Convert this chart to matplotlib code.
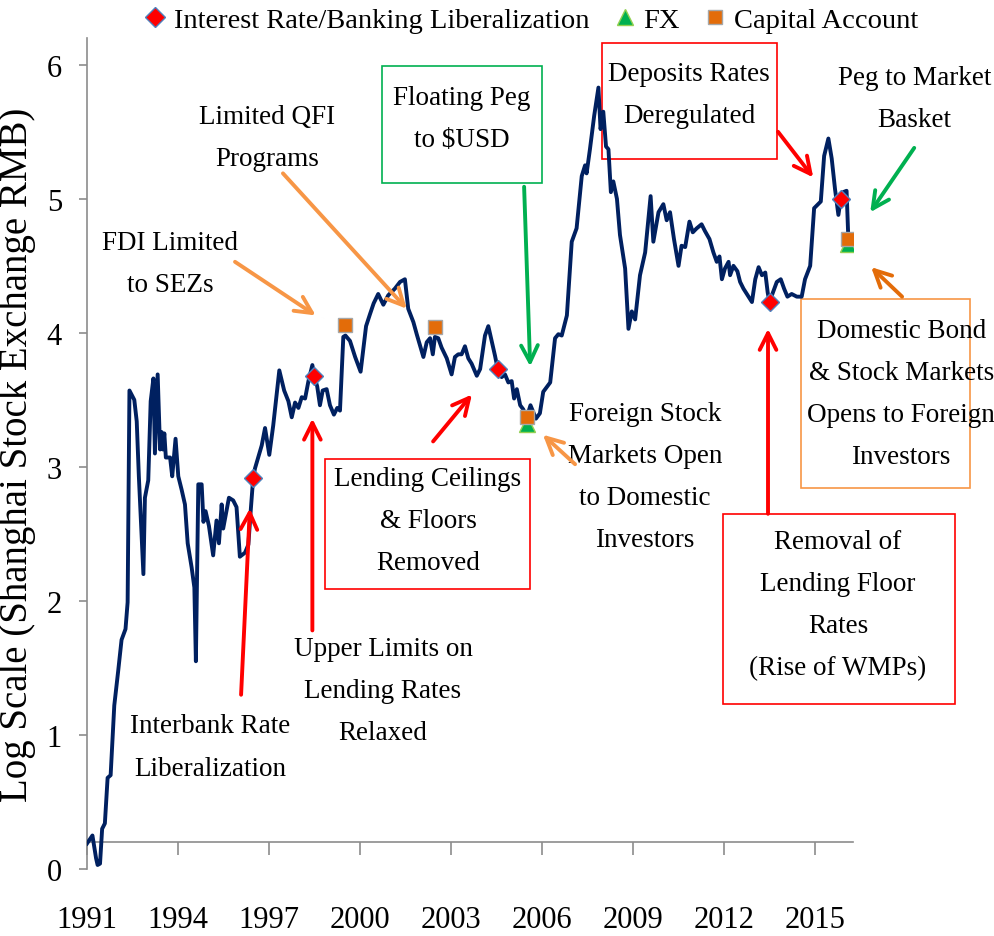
import matplotlib
matplotlib.use("Agg")
import matplotlib.pyplot as plt
from matplotlib.lines import Line2D
from matplotlib.patches import Rectangle

plt.rcParams['font.family'] = ['Liberation Serif', 'DejaVu Serif']

# Shanghai Stock Exchange, log scale
years = [1991.00, 1991.18, 1991.30, 1991.35, 1991.43, 1991.50, 1991.59, 1991.68, 1991.78, 1991.90,
         1992.03, 1992.14, 1992.27, 1992.34, 1992.40, 1992.56, 1992.64, 1992.71, 1992.86, 1992.91,
         1993.02, 1993.10, 1993.19, 1993.24, 1993.33, 1993.41, 1993.46, 1993.50, 1993.55, 1993.60,
         1993.74, 1993.81, 1993.92, 1994.01, 1994.12, 1994.23, 1994.32, 1994.45, 1994.54, 1994.59,
         1994.67, 1994.78, 1994.84, 1994.91, 1995.02, 1995.16, 1995.27, 1995.35, 1995.44, 1995.49,
         1995.68, 1995.82, 1995.93, 1996.04, 1996.21, 1996.32, 1996.40, 1996.48, 1996.54, 1996.76,
         1996.87, 1997.01, 1997.14, 1997.34, 1997.50, 1997.64, 1997.75, 1997.86, 1997.97, 1998.08,
         1998.19, 1998.30, 1998.43, 1998.49, 1998.59, 1998.68, 1998.77, 1998.90, 1999.01, 1999.14,
         1999.25, 1999.34, 1999.45, 1999.52, 1999.67, 1999.84, 2000.02, 2000.20, 2000.33, 2000.45,
         2000.60, 2000.77, 2000.93, 2001.15, 2001.32, 2001.48, 2001.59, 2001.76, 2001.87, 2002.09,
         2002.20, 2002.31, 2002.40, 2002.47, 2002.58, 2002.69, 2002.86, 2003.02, 2003.13, 2003.24,
         2003.35, 2003.46, 2003.57, 2003.68, 2003.85, 2003.96, 2004.12, 2004.23, 2004.35, 2004.45,
         2004.54, 2004.67, 2004.78, 2004.89, 2005.00, 2005.08, 2005.17, 2005.28, 2005.38, 2005.50,
         2005.62, 2005.80, 2005.93, 2006.04, 2006.27, 2006.43, 2006.54, 2006.65, 2006.82, 2006.98,
         2007.14, 2007.31, 2007.42, 2007.47, 2007.58, 2007.72, 2007.86, 2007.93, 2008.02, 2008.11,
         2008.19, 2008.27, 2008.35, 2008.47, 2008.57, 2008.74, 2008.85, 2008.96, 2009.07, 2009.23,
         2009.40, 2009.58, 2009.67, 2009.84, 2010.00, 2010.11, 2010.22, 2010.35, 2010.50, 2010.60,
         2010.72, 2010.86, 2010.97, 2011.10, 2011.26, 2011.37, 2011.52, 2011.65, 2011.76, 2011.85,
         2011.93, 2012.03, 2012.15, 2012.20, 2012.31, 2012.44, 2012.53, 2012.64, 2012.78, 2012.92,
         2013.03, 2013.14, 2013.25, 2013.36, 2013.44, 2013.50, 2013.61, 2013.74, 2013.87, 2013.98,
         2014.09, 2014.23, 2014.40, 2014.56, 2014.67, 2014.84, 2014.97, 2015.06, 2015.19, 2015.30,
         2015.44, 2015.55, 2015.66, 2015.77, 2015.85, 2015.93, 2016.04, 2016.09]
values = [0.19, 0.25, 0.08, 0.03, 0.04, 0.30, 0.34, 0.68, 0.70, 1.22,
          1.48, 1.71, 1.79, 1.99, 3.57, 3.50, 3.34, 2.93, 2.20, 2.77,
          2.90, 3.49, 3.66, 3.10, 3.69, 3.13, 3.26, 3.13, 3.25, 3.07,
          3.07, 2.93, 3.21, 2.93, 2.83, 2.72, 2.43, 2.25, 2.10, 1.55,
          2.87, 2.87, 2.59, 2.67, 2.56, 2.34, 2.60, 2.43, 2.72, 2.54,
          2.77, 2.75, 2.70, 2.33, 2.36, 2.42, 2.68, 2.92, 2.99, 3.16,
          3.29, 3.09, 3.31, 3.72, 3.57, 3.49, 3.37, 3.48, 3.44, 3.52,
          3.51, 3.64, 3.76, 3.68, 3.60, 3.46, 3.57, 3.58, 3.46, 3.39,
          3.44, 3.42, 3.97, 3.98, 3.94, 3.82, 3.71, 4.05, 4.14, 4.22,
          4.29, 4.21, 4.28, 4.33, 4.38, 4.40, 4.18, 4.08, 3.99, 3.82,
          3.93, 3.96, 3.84, 3.97, 3.96, 3.89, 3.81, 3.69, 3.82, 3.84,
          3.84, 3.90, 3.81, 3.77, 3.68, 3.73, 3.98, 4.05, 3.93, 3.83,
          3.73, 3.67, 3.69, 3.63, 3.64, 3.51, 3.58, 3.46, 3.43, 3.37,
          3.46, 3.36, 3.40, 3.56, 3.63, 3.96, 3.99, 3.98, 4.13, 4.68,
          4.78, 5.17, 5.25, 5.19, 5.37, 5.62, 5.83, 5.52, 5.65, 5.39,
          5.37, 5.05, 5.13, 5.00, 4.73, 4.48, 4.03, 4.16, 4.10, 4.43,
          4.60, 5.02, 4.68, 4.90, 4.96, 4.84, 4.90, 4.70, 4.50, 4.65,
          4.64, 4.83, 4.75, 4.78, 4.81, 4.76, 4.70, 4.60, 4.53, 4.57,
          4.40, 4.48, 4.53, 4.43, 4.50, 4.46, 4.38, 4.33, 4.28, 4.23,
          4.40, 4.49, 4.43, 4.45, 4.30, 4.23, 4.30, 4.38, 4.40, 4.33,
          4.27, 4.29, 4.27, 4.27, 4.40, 4.50, 4.93, 4.95, 4.98, 5.32,
          5.45, 5.30, 5.07, 4.88, 5.00, 5.05, 5.06, 4.75]

# policy events
rate_years = [1996.48, 1998.49, 2004.54, 2013.50, 2015.85]
rate_vals = [2.92, 3.68, 3.73, 4.23, 5.00]
fx_years = [2005.50, 2016.09]
fx_vals = [3.32, 4.66]
cap_years = [1999.52, 2002.47, 2005.50, 2016.09]
cap_vals = [4.06, 4.04, 3.37, 4.70]

year_ticks = [1991, 1994, 1997, 2000, 2003, 2006, 2009, 2012, 2015]

RED = '#FF0000'
GREEN = '#00B050'
LORANGE = '#F79646'
DORANGE = '#E36C09'
NAVY = '#002060'
AXCOL = '#8C8C8C'

fig = plt.figure(figsize=(9.94, 9.37), dpi=100)
ax = fig.add_axes([0.0875, 0.0715, 0.7706, 0.8869])

ax.plot(years, values, color=NAVY, lw=2.8, zorder=3)
ax.plot(fx_years, fx_vals, ls='none', marker='^', ms=11, color=GREEN,
        mec='#92D050', mew=1, zorder=4)
ax.plot(cap_years, cap_vals, ls='none', marker='s', ms=10.5, color=DORANGE,
        mec='#A6A6A6', mew=1, zorder=5)
ax.plot(rate_years, rate_vals, ls='none', marker='D', ms=9.5, color=RED,
        mec='#4F81BD', mew=1, zorder=5)

ax.set_xlim(1991, 2016.25)
ax.set_ylim(0, 6.2)
ax.set_xticks(year_ticks)
ax.set_yticks(range(7))
for s in ['top', 'right']:
    ax.spines[s].set_visible(False)
ax.spines['bottom'].set_position(('data', 0.2))
for s in ['left', 'bottom']:
    ax.spines[s].set_color(AXCOL)
    ax.spines[s].set_linewidth(1.2)
ax.tick_params(axis='x', direction='out', length=9, width=1.2, color=AXCOL,
               labelsize=22, pad=36)
ax.tick_params(axis='y', direction='out', length=6, width=1.2, color=AXCOL,
               labelsize=22, pad=12)
ax.set_ylabel('Log Scale (Shanghai Stock Exchange RMB)', fontsize=28, labelpad=8)

TXT = dict(ha='center', va='center', fontsize=19.5, linespacing=1.9)


def arrow(base, tip, color):
    ax.annotate('', xy=tip, xytext=base, annotation_clip=False,
                arrowprops=dict(arrowstyle='->', color=color, lw=2.8,
                                mutation_scale=30, shrinkA=0, shrinkB=0))


def box(x0, x1, y0, y1, color):
    ax.add_patch(Rectangle((x0, y0), x1 - x0, y1 - y0, fill=False, ec=color,
                           lw=1.2, clip_on=False, zorder=2))


ax.text(1995.06, 0.91, 'Interbank Rate\nLiberalization', **TXT)
arrow((1996.08, 1.30), (1996.37, 2.69), RED)

ax.text(2000.76, 1.33, 'Upper Limits on\nLending Rates\nRelaxed', **TXT)
arrow((1998.43, 1.78), (1998.43, 3.36), RED)

ax.text(1993.74, 4.52, 'FDI Limited\nto SEZs', **TXT)
arrow((1995.88, 4.53), (1998.54, 4.13), LORANGE)

ax.text(1996.93, 5.46, 'Limited QFI\nPrograms', **TXT)
arrow((1997.46, 5.19), (2001.54, 4.18), LORANGE)

box(1998.85, 2005.61, 2.09, 3.06, RED)
ax.text(2002.24, 2.60, 'Lending Ceilings\n& Floors\nRemoved', **TXT)
arrow((2002.41, 3.19), (2003.69, 3.54), RED)

box(2000.73, 2006.00, 5.12, 5.99, GREEN)
ax.text(2003.36, 5.60, 'Floating Peg\nto $USD', **TXT)
arrow((2005.41, 5.09), (2005.61, 3.75), GREEN)

ax.text(2009.40, 2.93, 'Foreign Stock\nMarkets Open\nto Domestic\nInvestors', **TXT)
arrow((2007.09, 3.02), (2006.03, 3.24), LORANGE)

box(2007.98, 2013.75, 5.30, 6.16, RED)
ax.text(2010.85, 5.78, 'Deposits Rates\nDeregulated', **TXT)
arrow((2013.78, 5.50), (2014.94, 5.16), RED)

ax.text(2018.27, 5.75, 'Peg to Market\nBasket', **TXT)
arrow((2018.27, 5.38), (2016.82, 4.90), GREEN)

box(2014.54, 2020.10, 2.84, 4.25, LORANGE)
ax.text(2017.84, 3.55, 'Domestic Bond\n& Stock Markets\nOpens to Foreign\nInvestors', **TXT)
arrow((2017.87, 4.27), (2016.85, 4.49), DORANGE)

box(2011.97, 2019.62, 1.23, 2.65, RED)
ax.text(2015.76, 1.97, 'Removal of\nLending Floor\nRates\n(Rise of WMPs)', **TXT)
arrow((2013.45, 2.65), (2013.45, 4.03), RED)

handles = [
    Line2D([], [], ls='none', marker='D', ms=10, color=RED, mec='#4F81BD', mew=1),
    Line2D([], [], ls='none', marker='^', ms=11, color=GREEN, mec='#92D050', mew=1),
    Line2D([], [], ls='none', marker='s', ms=10, color=DORANGE, mec='#A6A6A6', mew=1),
]
labels = ['Interest Rate/Banking Liberalization', 'FX', 'Capital Account']
fig.legend(handles, labels, loc='center', bbox_to_anchor=(0.535, 0.978), ncol=3,
           frameon=False, fontsize=20.5, handlelength=0.7, handletextpad=0.3,
           columnspacing=0.9, borderaxespad=0)

fig.savefig('out.png', dpi=100)
